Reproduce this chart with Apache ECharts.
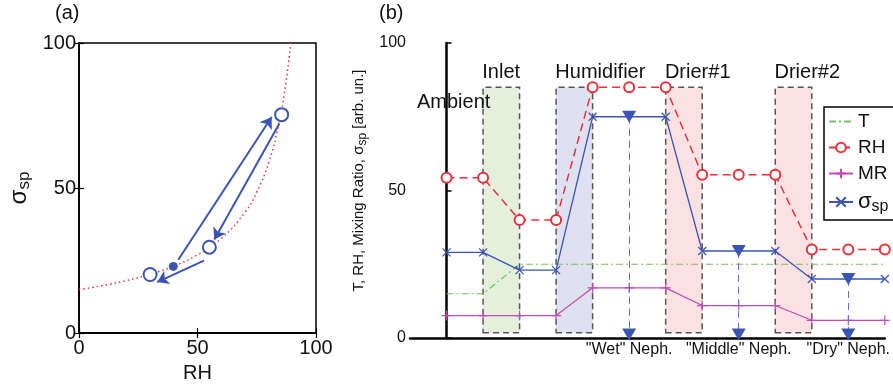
<!DOCTYPE html>
<html>
<head>
<meta charset="utf-8">
<title>Humidograph</title>
<script src="https://cdn.jsdelivr.net/npm/echarts@6/dist/echarts.min.js"></script>
<style>
	html, body { margin: 0; padding: 0; background: #fff; }
	#chart { width: 893px; height: 388px; }
</style>
</head>
<body>
<div id="chart"></div>
<script>
	// (a) 吸湿曲线
	const curveRH = [0, 10, 20, 30, 40, 50, 60, 70, 75, 80, 84, 87, 89.3];
	const curveSigma = [15, 16.4, 18.1, 20.3, 23.1, 27, 32.6, 41.6, 48.6, 58.7, 71, 84.6, 100];
	const measRH = [30, 55, 85.5];
	const measSigma = [20.2, 29.6, 75.3];
	const ambientRH = [39.8];
	const ambientSigma = [23];
	const arrowFrom = [[41.9, 25.3], [84.5, 72.2], [52.7, 25]];
	const arrowTo = [[81.3, 74.5], [57.1, 32.3], [33, 17.6]];

	// (b) 各段状态
	const steps = [0, 1, 2, 3, 4, 5, 6, 7, 8, 9, 10, 11, 12];
	const tVals = [15, 15, 25, 25, 25, 25, 25, 25, 25, 25, 25, 25, 25];
	const rhVals = [54.3, 54.3, 40, 40, 85, 85, 85, 55.3, 55.3, 55.3, 30, 30, 30];
	const mrVals = [7.6, 7.6, 7.6, 7.6, 17, 17, 17, 11, 11, 11, 6, 6, 6];
	const sigmaVals = [29, 29, 23, 23, 75, 75, 75, 29.5, 29.5, 29.5, 20, 20, 20];
	const nephSteps = [5, 8, 11];
	const nephLabels = ['"Wet" Neph.', '"Middle" Neph.', '"Dry" Neph.'];
	const nephFloor = 1.2;
	const stageNames = ['Inlet', 'Humidifier', 'Drier#1', 'Drier#2'];
	const stageFrom = [1, 3, 6, 9];
	const stageTo = [2, 4, 7, 10];
	const stageBottom = 1.8;
	const stageTop = 85;

	const FONT = 'Liberation Sans, Arial, sans-serif';
	const BLUE = '#3a55b4';
	const RED = '#e8303a';
	const GREEN = '#74c05a';
	const MAGENTA = '#c04cb4';
	const stageColors = ['#e5f0dc', '#dfe0f0', '#fbe1e1', '#fbe1e1'];

	/**
	 * @returns 返回option配置
	 */
	function getOption() {
		const boxAxis = {
			min: 0,
			max: 100,
			interval: 50,
			axisLine: { lineStyle: { color: '#000', width: 1.5 } },
			axisTick: { inside: true, length: 5, lineStyle: { color: '#000', width: 1.2 } },
			splitLine: { show: false }
		};
		const titleText = { fontSize: 20, fontWeight: 'normal', color: '#111', fontFamily: FONT };
		const sigmaData = steps.map((s, i) => {
			if (nephSteps.indexOf(s) >= 0) {
				return {
					value: [s, sigmaVals[i]],
					symbol: 'triangle',
					symbolRotate: 180,
					symbolSize: [14, 12],
					itemStyle: { color: BLUE, borderWidth: 0 }
				};
			}
			return [s, sigmaVals[i]];
		});

		const option = {
			animation: false,
			textStyle: { fontFamily: FONT, color: '#111' },
			title: [
				{ text: '(a)', left: 55, top: 3, padding: 0, textStyle: titleText },
				{ text: '(b)', left: 379, top: 3, padding: 0, textStyle: titleText },
				// 左上角的 Ambient 注释
				{ text: 'Ambient', left: 417, top: 92, padding: 0, z: 1, textStyle: titleText }
			],
			grid: [
				{ left: 79, top: 43, width: 237, height: 295, show: true, borderColor: '#000', borderWidth: 1.5, backgroundColor: 'transparent' },
				{ left: 410, top: 43, width: 478, height: 295 }
			],
			legend: {
				data: [
					{ name: 'T', itemStyle: { opacity: 0 } },
					'RH',
					'MR',
					'σsp'
				],
				orient: 'vertical',
				left: 824,
				top: 107,
				padding: [4, 50, 5, 4],
				borderColor: '#000',
				borderWidth: 1.5,
				itemWidth: 24,
				itemHeight: 12,
				itemGap: 5,
				formatter: (name) => (name === 'σsp' ? '{s|σ}{sub|sp}' : name),
				textStyle: {
					fontSize: 19,
					lineHeight: 21,
					color: '#111',
					fontFamily: FONT,
					rich: {
						s: { fontSize: 22, lineHeight: 26, fontFamily: FONT },
						sub: { fontSize: 16, lineHeight: 14, verticalAlign: 'bottom', fontFamily: FONT }
					}
				}
			},
			xAxis: [
				Object.assign({}, boxAxis, {
					type: 'value',
					gridIndex: 0,
					name: 'RH',
					nameLocation: 'middle',
					nameGap: 25,
					nameTextStyle: { fontSize: 20, color: '#111', fontFamily: FONT },
					axisLabel: { fontSize: 20, color: '#111', margin: 5, fontFamily: FONT }
				}),
				Object.assign({}, boxAxis, {
					type: 'value',
					gridIndex: 0,
					position: 'top',
					axisLabel: { show: false }
				}),
				{
					type: 'value',
					gridIndex: 1,
					min: -1,
					max: 12,
					interval: 1,
					axisLine: { lineStyle: { color: '#000', width: 2.5 } },
					axisTick: { show: false },
					splitLine: { show: false },
					axisLabel: {
						fontSize: 16,
						color: '#111',
						margin: 4,
						fontFamily: FONT,
						formatter: (v) => {
							const i = nephSteps.indexOf(v);
							return i >= 0 ? nephLabels[i] : '';
						}
					}
				}
			],
			yAxis: [
				Object.assign({}, boxAxis, {
					type: 'value',
					gridIndex: 0,
					name: '{s|σ}{sub|sp}',
					nameLocation: 'middle',
					nameGap: 46,
					nameTextStyle: {
						color: '#111',
						rich: {
							s: { fontSize: 24, lineHeight: 28, fontFamily: FONT },
							sub: { fontSize: 17, lineHeight: 15, verticalAlign: 'bottom', fontFamily: FONT }
						}
					},
					axisLabel: { fontSize: 20, color: '#111', margin: 3, fontFamily: FONT }
				}),
				Object.assign({}, boxAxis, {
					type: 'value',
					gridIndex: 0,
					position: 'right',
					axisLabel: { show: false }
				}),
				{
					type: 'value',
					gridIndex: 1,
					min: 0,
					max: 100,
					interval: 50,
					axisLine: { lineStyle: { color: '#000', width: 2.5 } },
					axisTick: { inside: true, length: 5, lineStyle: { color: '#000', width: 1.5 } },
					splitLine: { show: false },
					axisLabel: { fontSize: 16, color: '#111', margin: 4, fontFamily: FONT },
					name: '{t|T, RH, Mixing Ratio, σ}{sub|sp}{t| [arb. un.]}',
					nameLocation: 'middle',
					nameGap: 39,
					nameTextStyle: {
						color: '#111',
						padding: [0, 0, 0, 20],
						rich: {
							t: { fontSize: 15, lineHeight: 20, fontFamily: FONT },
							sub: { fontSize: 12, lineHeight: 12, verticalAlign: 'bottom', fontFamily: FONT }
						}
					}
				}
			],
			series: [
				// ---------- (a) ----------
				{
					name: 'curve',
					type: 'line',
					xAxisIndex: 0,
					yAxisIndex: 0,
					smooth: true,
					symbol: 'none',
					lineStyle: { color: RED, width: 1.5, type: [1.5, 3] },
					data: curveRH.map((x, i) => [x, curveSigma[i]]),
					z: 2
				},
				{
					name: 'meas',
					type: 'scatter',
					xAxisIndex: 0,
					yAxisIndex: 0,
					symbol: 'emptyCircle',
					symbolSize: 13,
					itemStyle: { color: BLUE, borderWidth: 1.5, opacity: 1 },
					data: measRH.map((x, i) => [x, measSigma[i]]),
					z: 3
				},
				{
					name: 'ambient',
					type: 'scatter',
					xAxisIndex: 0,
					yAxisIndex: 0,
					symbolSize: 9,
					itemStyle: { color: BLUE, opacity: 1 },
					data: ambientRH.map((x, i) => [x, ambientSigma[i]]),
					z: 4
				},
				{
					name: 'arrows',
					type: 'lines',
					coordinateSystem: 'cartesian2d',
					xAxisIndex: 0,
					yAxisIndex: 0,
					symbol: ['none', 'arrow'],
					symbolSize: 11,
					lineStyle: { color: BLUE, width: 2, opacity: 1 },
					data: arrowFrom.map((p, i) => ({ coords: [p, arrowTo[i]] })),
					z: 4
				},
				// ---------- (b) ----------
				{
					name: 'stages',
					type: 'line',
					xAxisIndex: 2,
					yAxisIndex: 2,
					data: [],
					markArea: {
						silent: true,
						data: stageNames.map((n, i) => [
							{
								name: n,
								coord: [stageFrom[i], stageBottom],
								itemStyle: {
									color: stageColors[i],
									borderColor: '#555',
									borderWidth: 1.5,
									borderType: [6, 4]
								},
								label: {
									show: true,
									position: [0, -4],
									align: 'left',
									verticalAlign: 'bottom',
									fontSize: 20,
									color: '#111',
									fontFamily: FONT
								}
							},
							{ coord: [stageTo[i], stageTop] }
						])
					}
				},
				{
					name: 'T',
					type: 'line',
					xAxisIndex: 2,
					yAxisIndex: 2,
					symbol: 'none',
					lineStyle: { color: GREEN, width: 1.2, type: [7, 3, 2, 3] },
					itemStyle: { color: GREEN },
					data: steps.map((s, i) => [s, tVals[i]]),
					z: 3
				},
				{
					name: 'RH',
					type: 'line',
					xAxisIndex: 2,
					yAxisIndex: 2,
					symbol: 'emptyCircle',
					symbolSize: 10,
					lineStyle: { color: RED, width: 1.5, type: [8, 5] },
					itemStyle: { color: RED, borderWidth: 1.5 },
					data: steps.map((s, i) => [s, rhVals[i]]),
					z: 4
				},
				{
					name: 'MR',
					type: 'line',
					xAxisIndex: 2,
					yAxisIndex: 2,
					symbol: 'path://M5,0L5,10M0,5L10,5',
					symbolSize: 10,
					lineStyle: { color: MAGENTA, width: 1.2 },
					itemStyle: { color: MAGENTA, borderColor: MAGENTA, borderWidth: 1.2 },
					data: steps.map((s, i) => [s, mrVals[i]]),
					z: 4
				},
				{
					name: 'σsp',
					type: 'line',
					xAxisIndex: 2,
					yAxisIndex: 2,
					symbol: 'path://M0,0L10,10M10,0L0,10',
					symbolSize: 8,
					lineStyle: { color: BLUE, width: 1.3 },
					itemStyle: { color: BLUE, borderColor: BLUE, borderWidth: 1.2 },
					data: sigmaData,
					z: 5
				},
				{
					name: 'neph',
					type: 'scatter',
					xAxisIndex: 2,
					yAxisIndex: 2,
					symbol: 'triangle',
					symbolRotate: 180,
					symbolSize: [14, 12],
					itemStyle: { color: BLUE, opacity: 1 },
					data: nephSteps.map((s) => [s, nephFloor]),
					markLine: {
						silent: true,
						symbol: ['none', 'none'],
						label: { show: false },
						lineStyle: { color: '#5a74d4', width: 1, type: [7, 5] },
						data: nephSteps.map((s) => [
							{ coord: [s, sigmaVals[steps.indexOf(s)]] },
							{ coord: [s, nephFloor] }
						])
					},
					z: 5
				}
			]
		};
		return option;
	}

	/**
	 * 初始化图表
	 */
	function initChart() {
		const chart = echarts.init(document.getElementById('chart'), null, { renderer: 'canvas' });
		chart.setOption(getOption());
	}

	initChart();
</script>
</body>
</html>
